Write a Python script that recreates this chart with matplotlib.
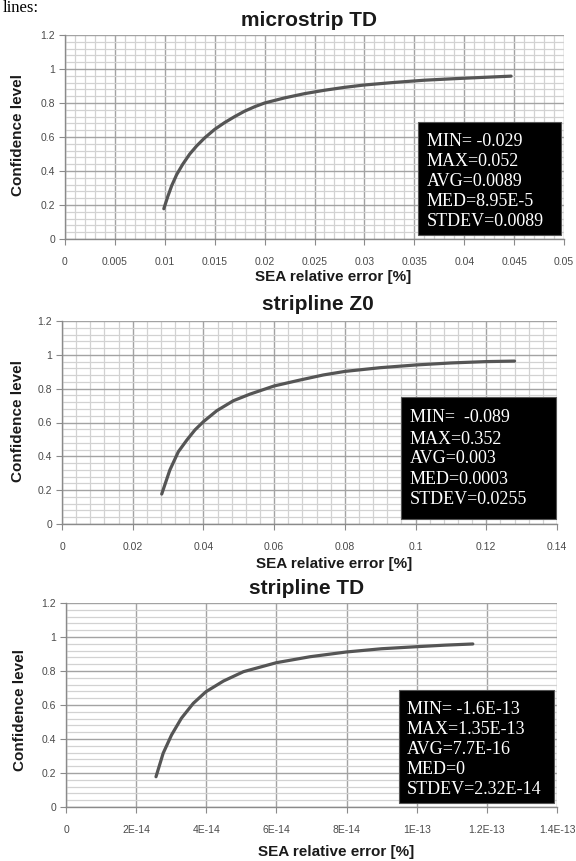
import matplotlib
matplotlib.use('Agg')
import matplotlib.pyplot as plt
from matplotlib.ticker import MultipleLocator, FixedLocator
from matplotlib.patches import Rectangle

# ---------------- data ----------------
titles = ["microstrip TD", "stripline Z0", "stripline TD"]
x_label = "SEA relative error [%]"
y_label = "Confidence level"

ms_td_x = [0.0099, 0.0103, 0.0107, 0.0112, 0.0118, 0.0125, 0.0132, 0.014, 0.015,
           0.016, 0.017, 0.018, 0.019, 0.020, 0.022, 0.024, 0.026, 0.028, 0.030,
           0.033, 0.036, 0.039, 0.042, 0.0447]
ms_td_y = [0.178, 0.25, 0.315, 0.38, 0.44, 0.50, 0.548, 0.595, 0.645,
           0.685, 0.72, 0.752, 0.778, 0.80, 0.83, 0.855, 0.875, 0.892, 0.906,
           0.921, 0.934, 0.943, 0.951, 0.958]

sl_z0_x = [0.0282, 0.0305, 0.0329, 0.0353, 0.0376, 0.040, 0.0438, 0.0485, 0.0532,
           0.060, 0.0673, 0.0739, 0.080, 0.090, 0.100, 0.110, 0.120, 0.128]
sl_z0_y = [0.177, 0.319, 0.427, 0.496, 0.556, 0.605, 0.67, 0.729, 0.768,
           0.816, 0.851, 0.881, 0.902, 0.924, 0.94, 0.952, 0.96, 0.963]

sl_td_x = [2.566e-14, 2.77e-14, 3.01e-14, 3.29e-14, 3.63e-14, 3.99e-14, 4.49e-14,
           5.06e-14, 6.0e-14, 6.96e-14, 8.0e-14, 9.0e-14, 1.0e-13, 1.08e-13, 1.16e-13]
sl_td_y = [0.178, 0.316, 0.424, 0.522, 0.61, 0.678, 0.741,
           0.796, 0.849, 0.884, 0.912, 0.931, 0.943, 0.952, 0.959]

y_ticks = [0, 0.2, 0.4, 0.6, 0.8, 1.0, 1.2]
y_tick_labels = ["0", "0.2", "0.4", "0.6", "0.8", "1", "1.2"]

ms_td_xticks = [0, 0.005, 0.01, 0.015, 0.02, 0.025, 0.03, 0.035, 0.04, 0.045, 0.05]
ms_td_xtick_labels = ["0", "0.005", "0.01", "0.015", "0.02", "0.025", "0.03",
                      "0.035", "0.04", "0.045", "0.05"]
sl_z0_xticks = [0, 0.02, 0.04, 0.06, 0.08, 0.10, 0.12, 0.14]
sl_z0_xtick_labels = ["0", "0.02", "0.04", "0.06", "0.08", "0.1", "0.12", "0.14"]
sl_td_xticks = [0, 2e-14, 4e-14, 6e-14, 8e-14, 1e-13, 1.2e-13, 1.4e-13]
sl_td_xtick_labels = ["0", "2E-14", "4E-14", "6E-14", "8E-14", "1E-13",
                      "1.2E-13", "1.4E-13"]

ms_td_stats = ["MIN= -0.029", "MAX=0.052", "AVG=0.0089", "MED=8.95E-5", "STDEV=0.0089"]
sl_z0_stats = ["MIN=  -0.089", "MAX=0.352", "AVG=0.003", "MED=0.0003", "STDEV=0.0255"]
sl_td_stats = ["MIN= -1.6E-13", "MAX=1.35E-13", "AVG=7.7E-16", "MED=0", "STDEV=2.32E-14"]

# ---------------- layout (pixels) ----------------
W, H = 576, 861
fig = plt.figure(figsize=(W / 100, H / 100), dpi=100)


def fx(px):
    return px / W


def fy(py):
    return 1 - py / H


panels = [
    dict(x=ms_td_x, y=ms_td_y, xt=ms_td_xticks, xtl=ms_td_xtick_labels,
         xminor=0.001, stats=ms_td_stats, title=titles[0],
         rect=(65, 35, 564, 239), title_pos=(309, 20), xlab_pos=(333, 277),
         ylab_pos=(18, 135), box=(418, 122, 561, 235), tx=427,
         lines=[142, 162, 182, 202, 222]),
    dict(x=sl_z0_x, y=sl_z0_y, xt=sl_z0_xticks, xtl=sl_z0_xtick_labels,
         xminor=0.004, stats=sl_z0_stats, title=titles[1],
         rect=(62, 321, 557, 524), title_pos=(318, 304), xlab_pos=(334, 564),
         ylab_pos=(18, 421), box=(401, 397, 556, 519), tx=410,
         lines=[418, 439, 459, 479, 499]),
    dict(x=sl_td_x, y=sl_td_y, xt=sl_td_xticks, xtl=sl_td_xtick_labels,
         xminor=None, stats=sl_td_stats, title=titles[2],
         rect=(66, 603, 557, 807), title_pos=(307, 588), xlab_pos=(336, 852),
         ylab_pos=(20, 710), box=(399, 690, 554, 803), tx=407,
         lines=[709, 729, 749, 769, 789]),
]

sans = ['Liberation Sans', 'DejaVu Sans']
serif = ['Liberation Serif', 'DejaVu Serif']

for p in panels:
    l, t, r, b = p['rect']
    ax = fig.add_axes([fx(l), fy(b), fx(r) - fx(l), fy(t) - fy(b)])
    ax.set_axisbelow(True)
    ax.plot(p['x'], p['y'], color='#555555', lw=2.3, solid_capstyle='round',
            solid_joinstyle='round', zorder=3)
    ax.set_xlim(p['xt'][0], p['xt'][-1])
    ax.set_ylim(0, 1.2)
    ax.xaxis.set_major_locator(FixedLocator(p['xt']))
    ax.set_xticklabels(p['xtl'])
    ax.yaxis.set_major_locator(FixedLocator(y_ticks))
    ax.set_yticklabels(y_tick_labels)
    ax.yaxis.set_minor_locator(MultipleLocator(0.04))
    if p['xminor']:
        ax.xaxis.set_minor_locator(MultipleLocator(p['xminor']))
        ax.grid(which='minor', axis='both', color='#d2d2d2', lw=0.9)
    else:
        ax.grid(which='minor', axis='y', color='#d2d2d2', lw=0.9)
    ax.grid(which='major', axis='both', color='#a3a3a3', lw=1.0)
    for s in ['top', 'right']:
        ax.spines[s].set_visible(False)
    for s in ['left', 'bottom']:
        ax.spines[s].set_color('#8a8a8a')
        ax.spines[s].set_linewidth(1.0)
    ax.tick_params(which='major', direction='out', length=4, color='#8a8a8a',
                   labelcolor='#4a4a4a', labelsize=7.5)
    ax.tick_params(axis='x', which='major', pad=9)
    ax.tick_params(axis='y', which='major', pad=3)
    ax.tick_params(which='minor', length=0)
    for lab in ax.get_xticklabels() + ax.get_yticklabels():
        lab.set_family(sans)

    fig.text(fx(p['title_pos'][0]), fy(p['title_pos'][1]), p['title'],
             ha='center', va='center', fontsize=15, fontweight='bold',
             color='#1a1a1a', family=sans)
    fig.text(fx(p['xlab_pos'][0]), fy(p['xlab_pos'][1]), x_label,
             ha='center', va='center', fontsize=11, fontweight='bold',
             color='#1a1a1a', family=sans)
    fig.text(fx(p['ylab_pos'][0]), fy(p['ylab_pos'][1]), y_label,
             ha='center', va='center', fontsize=11, fontweight='bold',
             color='#1a1a1a', family=sans, rotation=90)

    bx0, by0, bx1, by1 = p['box']
    fig.add_artist(Rectangle((fx(bx0), fy(by1)), fx(bx1) - fx(bx0), fy(by0) - fy(by1),
                             transform=fig.transFigure, facecolor='black',
                             edgecolor='#555555', lw=0.8, zorder=5))
    for txt, ly in zip(p['stats'], p['lines']):
        fig.text(fx(p['tx']), fy(ly), txt, ha='left', va='center', fontsize=13,
                 color='white', family=serif, zorder=6)

# paragraph text fragment at the very top
fig.text(fx(3), fy(12), "lines:", ha='left', va='baseline', fontsize=12,
         color='black', family=serif)

fig.savefig('out.png', dpi=100, facecolor='white')
